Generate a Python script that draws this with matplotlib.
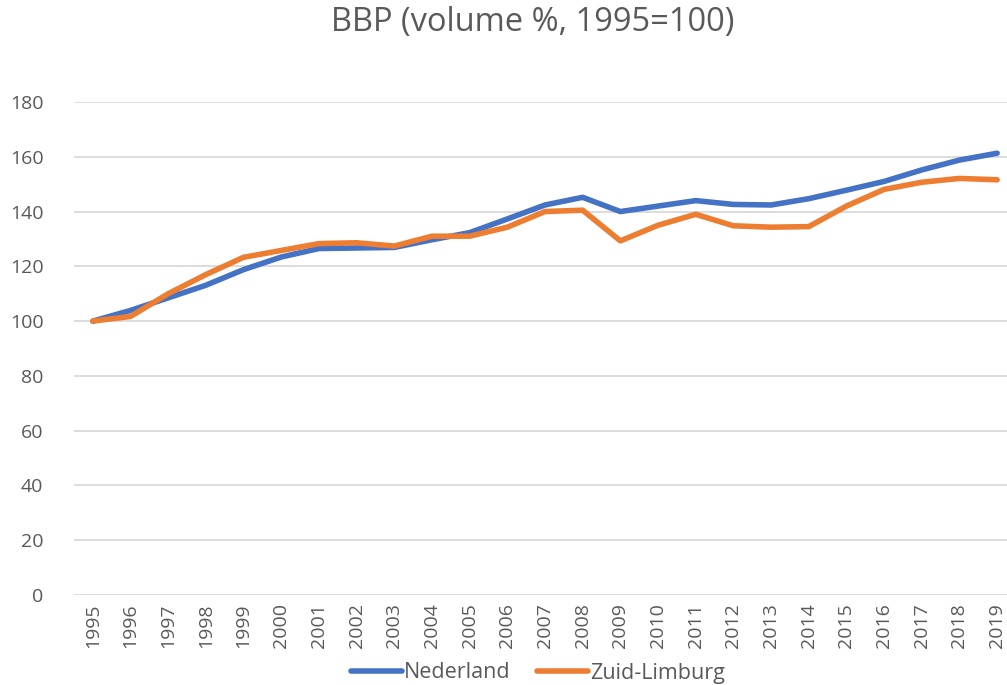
import matplotlib.pyplot as plt
import numpy as np

# ── Data ──
years = [str(y) for y in range(1995, 2020)]
nederland = [100.0, 103.9, 108.5, 113.1, 118.8, 123.4, 126.5, 126.7, 126.9, 129.7,
             132.3, 137.3, 142.4, 145.2, 140.0, 142.0, 144.0, 142.6, 142.4, 144.7,
             147.8, 151.0, 155.2, 158.8, 161.3]
zuid_limburg = [100.0, 101.7, 110.0, 117.0, 123.3, 125.8, 128.3, 128.6, 127.4, 131.0,
                131.0, 134.3, 140.0, 140.5, 129.3, 135.0, 139.0, 134.8, 134.3, 134.5,
                142.0, 148.1, 150.7, 152.1, 151.6]

text_color = "#595959"
plt.rcParams["font.family"] = ["Open Sans", "DejaVu Sans"]

fig = plt.figure(figsize=(10.07, 6.85), dpi=100)
ax = fig.add_axes([74 / 1007, 90 / 685, 942 / 1007, 493 / 685])

x = np.arange(len(years))
ax.plot(x, nederland, color="#4472C4", linewidth=4.0, solid_capstyle="round",
        label="Nederland", zorder=3)
ax.plot(x, zuid_limburg, color="#ED7D31", linewidth=4.0, solid_capstyle="round",
        label="Zuid-Limburg", zorder=4)

ax.set_xlim(-0.5, len(years) - 0.5)
ax.set_ylim(0, 180)
ax.set_yticks(range(0, 181, 20))
ax.set_xticks(x)
ax.set_xticklabels(years, rotation=90)
ax.grid(axis="y", color="#D9D9D9", linewidth=1.3)
ax.set_axisbelow(True)
for s in ax.spines.values():
    s.set_visible(False)
ax.tick_params(length=0, labelsize=14, colors=text_color)
ax.tick_params(axis="y", pad=22)
ax.tick_params(axis="x", pad=6)

fig.text(533 / 1007, 1 - 23 / 685, "BBP (volume %, 1995=100)", ha="center", va="center",
         fontsize=23.5, color=text_color)

fig.legend(loc="center", bbox_to_anchor=(538 / 1007, 1 - 673 / 685), ncol=2,
           frameon=False, fontsize=15.5, handlelength=2.4, handletextpad=0.1,
           columnspacing=1.2, labelcolor=text_color)

fig.savefig("out.png", dpi=100)
